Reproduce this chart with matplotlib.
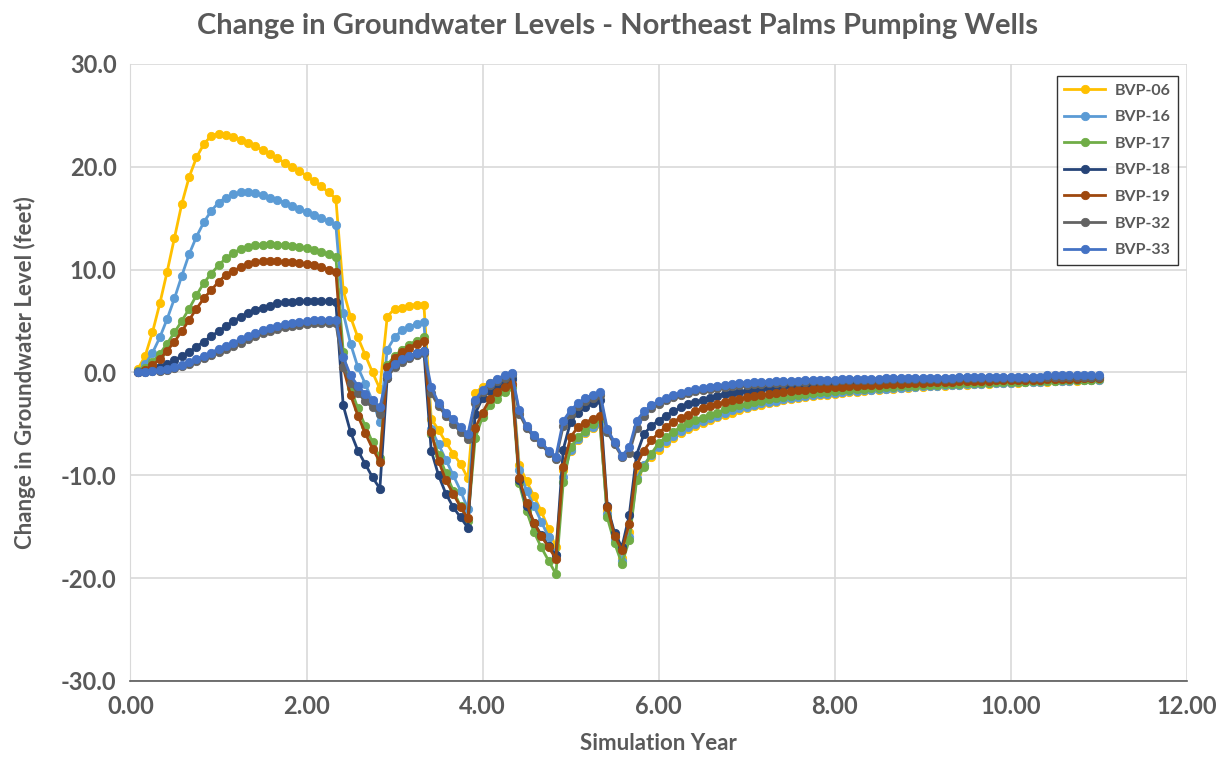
import matplotlib

matplotlib.use("Agg")
import matplotlib.pyplot as plt
import numpy as np

# monthly model output, month 1 .. 132 (simulation years 0.08 .. 11.0)
months = np.arange(1, 133)

wells = ["BVP-06", "BVP-16", "BVP-17", "BVP-18", "BVP-19", "BVP-32", "BVP-33"]
colors = ["#FFC000", "#5B9BD5", "#70AD47", "#264478", "#9E480E", "#636363", "#4472C4"]

bvp06 = [
    0.3, 1.6, 3.9, 6.7, 9.8, 13.1, 16.4, 19.0, 20.9, 22.2, 23.0, 23.2, 23.1, 22.9,
    22.6, 22.3, 22.0, 21.6, 21.2, 20.8, 20.4, 20.0, 19.6, 19.1, 18.6, 18.1, 17.5, 16.9,
    8.0, 5.4, 3.4, 1.7, 0.0, -1.6,
    5.4, 6.2, 6.3, 6.5, 6.6, 6.6,
    -4.5, -5.6, -6.8, -7.9, -8.9, -10.3,
    -2.0, -1.4, -1.0, -0.7, -0.4, -0.2,
    -9.0, -10.6, -12.0, -13.5, -15.2, -17.0,
    -9.5, -7.6, -6.6, -5.9, -5.4, -5.0,
    -13.5, -16.0, -18.0, -15.5,
    -9.8, -9.0, -8.2, -7.5, -6.9, -6.4, -5.9, -5.5, -5.2, -4.9, -4.6, -4.3, -4.1, -3.9, -3.7, -3.5,
    -3.3, -3.2, -3.0, -2.9, -2.7, -2.6, -2.5, -2.4, -2.3, -2.2, -2.2, -2.1,
    -2.0, -1.9, -1.9, -1.8, -1.7, -1.7, -1.6, -1.6, -1.5, -1.5, -1.4, -1.4,
    -1.3, -1.3, -1.3, -1.2, -1.2, -1.2, -1.1, -1.1, -1.1, -1.0, -1.0, -1.0,
    -1.0, -0.9, -0.9, -0.9, -0.9, -0.8, -0.8, -0.8, -0.8, -0.7, -0.7, -0.7,
]
bvp16 = [
    0.1, 0.8, 1.9, 3.4, 5.2, 7.2, 9.4, 11.5, 13.2, 14.6, 15.7, 16.5, 17.0, 17.3,
    17.5, 17.5, 17.4, 17.2, 17.0, 16.8, 16.5, 16.2, 15.9, 15.6, 15.3, 15.0, 14.7, 14.3,
    5.8, 2.8, 0.5, -1.1, -2.8, -4.8,
    2.2, 3.4, 4.1, 4.4, 4.7, 4.9,
    -5.5, -7.0, -8.5, -10.0, -11.5, -13.3,
    -2.8, -1.8, -1.3, -0.9, -0.6, -0.4,
    -9.5, -11.5, -13.0, -14.5, -16.0, -17.8,
    -10.2, -7.5, -6.5, -5.8, -5.3, -4.9,
    -13.8, -16.3, -18.3, -16.0,
    -10.3, -9.0, -8.0, -7.3, -6.7, -6.2, -5.7, -5.3, -5.0, -4.7, -4.4, -4.2, -3.9, -3.7, -3.5, -3.4,
    -3.2, -3.0, -2.9, -2.8, -2.6, -2.5, -2.4, -2.3, -2.2, -2.1, -2.1, -2.0,
    -1.9, -1.8, -1.8, -1.7, -1.7, -1.6, -1.6, -1.5, -1.5, -1.4, -1.4, -1.3,
    -1.3, -1.3, -1.2, -1.2, -1.2, -1.1, -1.1, -1.1, -1.0, -1.0, -1.0, -1.0,
    -0.9, -0.9, -0.9, -0.9, -0.8, -0.8, -0.8, -0.8, -0.7, -0.7, -0.7, -0.7,
]
bvp17 = [
    0.1, 0.4, 1.0, 1.8, 2.8, 3.9, 5.0, 6.2, 7.5, 8.7, 9.6, 10.4, 11.1, 11.6,
    12.0, 12.2, 12.4, 12.4, 12.5, 12.4, 12.4, 12.3, 12.2, 12.1, 11.9, 11.7, 11.5, 11.2,
    2.0, -1.5, -3.5, -5.2, -6.8, -8.3,
    0.7, 1.6, 2.2, 2.7, 3.1, 3.4,
    -6.0, -8.0, -9.8, -11.5, -13.0, -14.4,
    -6.4, -4.3, -3.2, -2.6, -1.9, -1.4,
    -10.8, -13.5, -15.5, -17.0, -18.3, -19.6,
    -10.7, -7.3, -6.3, -5.7, -5.0, -4.5,
    -14.1, -16.6, -18.6, -16.3,
    -10.5, -9.2, -7.9, -6.9, -6.3, -5.8, -5.3, -4.9, -4.6, -4.4, -4.1, -3.9, -3.6, -3.4, -3.2, -3.1,
    -2.9, -2.8, -2.6, -2.5, -2.4, -2.3, -2.2, -2.1, -2.0, -1.9, -1.9, -1.8,
    -1.7, -1.7, -1.6, -1.6, -1.5, -1.5, -1.4, -1.4, -1.3, -1.3, -1.3, -1.2,
    -1.2, -1.2, -1.1, -1.1, -1.1, -1.0, -1.0, -1.0, -1.0, -0.9, -0.9, -0.9,
    -0.9, -0.9, -0.8, -0.8, -0.8, -0.8, -0.7, -0.7, -0.7, -0.7, -0.7, -0.6,
]
bvp18 = [
    0.0, 0.1, 0.3, 0.5, 0.8, 1.2, 1.6, 2.0, 2.5, 3.0, 3.5, 4.0, 4.5, 5.0,
    5.4, 5.8, 6.1, 6.3, 6.5, 6.7, 6.8, 6.8, 6.9, 6.9, 6.9, 6.9, 6.9, 6.8,
    -3.2, -5.8, -7.6, -8.9, -10.2, -11.3,
    -0.5, 0.6, 1.2, 1.6, 1.9, 2.1,
    -7.6, -10.0, -11.8, -13.1, -14.1, -15.1,
    -4.0, -2.5, -1.8, -1.3, -0.9, -0.6,
    -10.5, -13.0, -14.6, -15.8, -16.9, -17.8,
    -7.5, -4.8, -3.9, -3.4, -3.0, -2.7,
    -13.0, -15.6, -17.0, -13.9,
    -8.0, -6.0, -5.2, -4.7, -4.2, -3.8, -3.4, -3.1, -2.9, -2.7, -2.5, -2.3, -2.1, -2.0, -1.9, -1.8,
    -1.7, -1.6, -1.5, -1.4, -1.4, -1.3, -1.3, -1.2, -1.2, -1.1, -1.1, -1.0,
    -1.0, -1.0, -0.9, -0.9, -0.9, -0.8, -0.8, -0.8, -0.8, -0.7, -0.7, -0.7,
    -0.7, -0.6, -0.6, -0.6, -0.6, -0.6, -0.6, -0.5, -0.5, -0.5, -0.5, -0.5,
    -0.5, -0.5, -0.5, -0.5, -0.4, -0.4, -0.4, -0.4, -0.4, -0.4, -0.4, -0.4,
]
bvp19 = [
    0.0, 0.2, 0.7, 1.3, 2.1, 3.0, 4.0, 5.1, 6.2, 7.2, 8.0, 8.8, 9.5, 9.9,
    10.2, 10.5, 10.7, 10.8, 10.8, 10.8, 10.7, 10.7, 10.6, 10.5, 10.4, 10.2, 10.0, 9.8,
    0.5, -2.2, -4.2, -5.9, -7.4, -8.7,
    0.5, 1.4, 2.0, 2.4, 2.8, 3.1,
    -5.8, -8.6, -10.5, -11.8, -13.1, -14.2,
    -5.4, -3.9, -2.6, -1.9, -1.4, -1.1,
    -10.3, -12.7, -14.6, -15.9, -17.0, -18.1,
    -9.2, -6.3, -5.3, -4.9, -4.5, -4.2,
    -13.1, -15.9, -17.3, -14.7,
    -9.0, -7.6, -6.6, -5.9, -5.3, -4.8, -4.4, -4.1, -3.8, -3.5, -3.3, -3.1, -2.9, -2.7, -2.6, -2.4,
    -2.3, -2.2, -2.1, -2.0, -1.9, -1.8, -1.7, -1.7, -1.6, -1.5, -1.5, -1.4,
    -1.4, -1.3, -1.3, -1.2, -1.2, -1.2, -1.1, -1.1, -1.1, -1.0, -1.0, -1.0,
    -0.9, -0.9, -0.9, -0.9, -0.8, -0.8, -0.8, -0.8, -0.8, -0.7, -0.7, -0.7,
    -0.7, -0.7, -0.7, -0.7, -0.6, -0.6, -0.6, -0.6, -0.6, -0.5, -0.5, -0.5,
]
bvp32 = [
    0.0, 0.0, 0.1, 0.1, 0.2, 0.4, 0.6, 0.8, 1.1, 1.4, 1.7, 2.0, 2.3, 2.6,
    2.9, 3.2, 3.5, 3.8, 4.0, 4.2, 4.4, 4.5, 4.6, 4.7, 4.8, 4.8, 4.8, 4.8,
    0.5, -1.0, -2.0, -2.8, -3.4, -4.0,
    -0.5, 0.5, 1.0, 1.4, 1.7, 1.9,
    -2.0, -3.3, -4.2, -5.0, -5.8, -6.5,
    -3.0, -1.9, -1.2, -0.8, -0.5, -0.2,
    -4.0, -5.4, -6.3, -7.0, -7.8, -8.4,
    -5.2, -4.0, -3.3, -2.8, -2.5, -2.2,
    -5.8, -7.0, -8.2, -7.8,
    -5.4, -4.2, -3.5, -3.1, -2.7, -2.4, -2.2, -2.0, -1.8, -1.7, -1.6, -1.5, -1.4, -1.3, -1.2, -1.2,
    -1.1, -1.1, -1.0, -1.0, -1.0, -0.9, -0.9, -0.9, -0.8, -0.8, -0.8, -0.8,
    -0.7, -0.7, -0.7, -0.7, -0.7, -0.7, -0.6, -0.6, -0.6, -0.6, -0.6, -0.6,
    -0.6, -0.6, -0.6, -0.6, -0.5, -0.5, -0.5, -0.5, -0.5, -0.5, -0.5, -0.5,
    -0.5, -0.5, -0.5, -0.5, -0.4, -0.4, -0.4, -0.4, -0.4, -0.4, -0.4, -0.4,
]
bvp33 = [
    0.0, 0.0, 0.1, 0.2, 0.3, 0.5, 0.7, 1.0, 1.3, 1.6, 1.9, 2.3, 2.6, 2.9,
    3.2, 3.5, 3.8, 4.1, 4.3, 4.5, 4.7, 4.8, 4.9, 5.0, 5.1, 5.1, 5.1, 5.1,
    1.5, -0.3, -1.3, -2.1, -2.7, -3.4,
    -0.3, 0.8, 1.3, 1.6, 1.9, 2.1,
    -1.4, -3.0, -3.9, -4.5, -5.3, -6.0,
    -2.7, -1.7, -1.0, -0.6, -0.3, -0.1,
    -3.7, -5.2, -6.1, -6.8, -7.6, -8.2,
    -4.7, -3.7, -3.0, -2.5, -2.2, -1.9,
    -5.5, -6.8, -8.1, -7.3,
    -4.7, -3.8, -3.2, -2.8, -2.5, -2.2, -2.0, -1.8, -1.6, -1.5, -1.4, -1.3, -1.2, -1.1, -1.0, -1.0,
    -0.9, -0.9, -0.9, -0.8, -0.8, -0.8, -0.8, -0.7, -0.7, -0.7, -0.7, -0.7,
    -0.6, -0.6, -0.6, -0.6, -0.6, -0.6, -0.5, -0.5, -0.5, -0.5, -0.5, -0.5,
    -0.5, -0.5, -0.5, -0.5, -0.4, -0.4, -0.4, -0.4, -0.4, -0.4, -0.4, -0.4,
    -0.4, -0.4, -0.4, -0.4, -0.3, -0.3, -0.3, -0.3, -0.3, -0.3, -0.3, -0.3,
]

series = [bvp06, bvp16, bvp17, bvp18, bvp19, bvp32, bvp33]
for s in series:
    assert len(s) == len(months), len(s)

TXT = "#595959"
plt.rcParams["font.family"] = ["Lato", "DejaVu Sans"]

fig = plt.figure(figsize=(12.31, 7.60), dpi=100)
ax = fig.add_axes([0.106, 0.104, 0.858, 0.812])

years = months / 12.0
for name, col, vals in zip(wells, colors, series):
    ax.plot(years, vals, color=col, lw=2.0, marker="o", ms=6.0,
            markeredgewidth=0.6, markeredgecolor=col, label=name, zorder=3)

ax.set_xlim(0, 12)
ax.set_ylim(-30, 30)
ax.set_xticks(np.arange(0, 13, 2))
ax.set_yticks(np.arange(-30, 31, 10))
ax.set_xticklabels([f"{v:.2f}" for v in np.arange(0, 13, 2)])
ax.set_yticklabels([f"{v:.1f}" for v in np.arange(-30, 31, 10)])
ax.grid(True, color="#D9D9D9", lw=1.2, zorder=0)
for side in ["top", "right"]:
    ax.spines[side].set_visible(False)
ax.spines["left"].set_color("#D9D9D9")
ax.spines["bottom"].set_color("#595959")
ax.spines["bottom"].set_linewidth(1.2)
ax.tick_params(length=0, pad=10, labelsize=17, labelcolor=TXT)
for lab in ax.get_xticklabels() + ax.get_yticklabels():
    lab.set_fontweight("bold")

ax.set_xlabel("Simulation Year", fontsize=16, fontweight="bold", color=TXT, labelpad=11)
ax.set_ylabel("Change in Groundwater Level (feet)", fontsize=16, fontweight="bold",
              color=TXT, labelpad=18)
fig.suptitle("Change in Groundwater Levels - Northeast Palms Pumping Wells",
             x=0.502, y=0.983, fontsize=21, fontweight="bold", color=TXT)

leg = ax.legend(loc="upper right", bbox_to_anchor=(0.9995, 0.993), frameon=True,
                fancybox=False, edgecolor="black", fontsize=11.5, handlelength=2.6,
                labelspacing=0.78, borderpad=0.45, handletextpad=0.6)
leg.get_frame().set_linewidth(1.0)
for t in leg.get_texts():
    t.set_fontweight("bold")
    t.set_color(TXT)

fig.savefig("out.png", dpi=100)
